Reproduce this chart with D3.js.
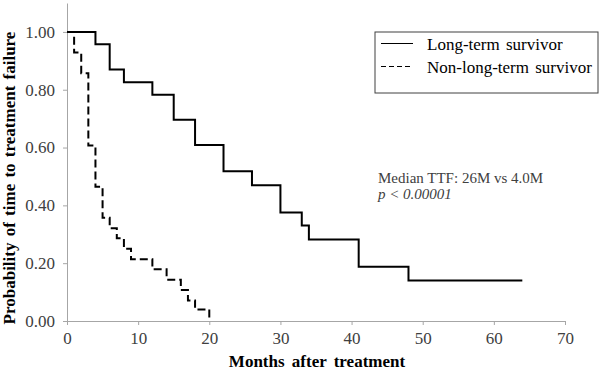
<!DOCTYPE html>
<html>
<head>
<meta charset="utf-8">
<script src="https://cdn.jsdelivr.net/npm/d3@7"></script>
<style>
  body { margin: 0; background: #fff; }
  .axis path, .axis line { stroke: #a6a6a6; }
</style>
</head>
<body>
<div id="chart"></div>
<script>
// KM steps: month of each drop and survival value after it
let longMonths = [0, 4, 6, 8, 12, 15, 18, 22, 26, 30, 33, 34, 41, 48, 64];
let longValues = [1.0, 0.957, 0.870, 0.826, 0.783, 0.696, 0.609, 0.518, 0.47, 0.375, 0.33, 0.282, 0.188, 0.14, 0.14];

let shortMonths = [0, 1, 2, 3, 4, 5, 6, 7, 8, 9, 12, 14, 16, 17, 18, 20];
let shortValues = [1.0, 0.929, 0.857, 0.607, 0.464, 0.357, 0.321, 0.286, 0.25, 0.214, 0.179, 0.143, 0.107, 0.071, 0.04, 0.0];

let xTicks = [0, 10, 20, 30, 40, 50, 60, 70];
let yTicks = [0, 0.2, 0.4, 0.6, 0.8, 1.0];
let legendLabels = ["Long-term survivor", "Non-long-term survivor"];
let noteLines = ["Median TTF: 26M vs 4.0M", "p < 0.00001"];

let serif = "'Liberation Serif', 'Times New Roman', serif";
let width = 600, height = 370;
let margin = {top: 3, right: 35, bottom: 49, left: 67};

let svg = d3.select("#chart").append("svg")
    .attr("width", width)
    .attr("height", height)
    .style("display", "block");

let x = d3.scaleLinear()
    .domain([0, 70])
    .range([margin.left, width - margin.right]);

let y = d3.scaleLinear()
    .domain([0, 1.1])
    .range([height - margin.bottom, margin.top]);

//AXES
let xAxis = d3.axisBottom(x)
    .tickValues(xTicks)
    .tickSize(4)
    .tickPadding(5)
    .tickSizeOuter(0);

let yAxis = d3.axisLeft(y)
    .tickValues(yTicks)
    .tickFormat(d3.format(".2f"))
    .tickSize(4)
    .tickPadding(8)
    .tickSizeOuter(0);

let xg = svg.append("g")
    .attr("class", "axis")
    .attr("transform", "translate(0," + y(0) + ")")
    .call(xAxis);
xg.selectAll("text").attr("dy", "0.85em");

let yg = svg.append("g")
    .attr("class", "axis")
    .attr("transform", "translate(" + x(0) + ",0)")
    .call(yAxis);

svg.selectAll(".axis")
    .attr("font-family", serif)
    .attr("font-size", 17)
    .selectAll("text").attr("fill", "#404040");

//STEP LINES
let step = d3.line()
    .x((d)=>x(d[0]))
    .y((d)=>y(d[1]))
    .curve(d3.curveStepAfter);

svg.append("path")
    .datum(d3.zip(longMonths, longValues))
    .attr("d", step)
    .attr("fill", "none")
    .attr("stroke", "#000")
    .attr("stroke-width", 2);

svg.append("path")
    .datum(d3.zip(shortMonths, shortValues))
    .attr("d", step)
    .attr("fill", "none")
    .attr("stroke", "#000")
    .attr("stroke-width", 2)
    .attr("stroke-dasharray", "8,4");

//AXIS TITLES
svg.append("text")
    .attr("x", 317)
    .attr("y", 367)
    .attr("text-anchor", "middle")
    .attr("font-family", serif)
    .attr("font-weight", "bold")
    .attr("font-size", 17)
    .attr("word-spacing", 3)
    .text("Months after treatment");

svg.append("text")
    .attr("transform", "translate(15,178) rotate(-90)")
    .attr("text-anchor", "middle")
    .attr("font-family", serif)
    .attr("font-weight", "bold")
    .attr("font-size", 17)
    .attr("word-spacing", 2)
    .text("Probability of time to treatment failure");

//LEGEND
let legend = svg.append("g").attr("transform", "translate(375,32)");
legend.append("rect")
    .attr("width", 223)
    .attr("height", 61)
    .attr("fill", "#fff")
    .attr("stroke", "#404040")
    .attr("stroke-width", 1);

legend.selectAll("line")
    .data(legendLabels)
    .enter().append("line")
    .attr("x1", 6)
    .attr("x2", 38)
    .attr("y1", (d,i)=>11.5 + i*23)
    .attr("y2", (d,i)=>11.5 + i*23)
    .attr("stroke", "#000")
    .attr("stroke-width", 1)
    .attr("stroke-dasharray", (d,i)=> i ? "5,3" : null);

legend.selectAll("text")
    .data(legendLabels)
    .enter().append("text")
    .attr("x", 52)
    .attr("y", (d,i)=>18 + i*23)
    .attr("font-family", serif)
    .attr("font-size", 17)
    .attr("word-spacing", 2)
    .attr("fill", "#000")
    .text((d)=>d);

//ANNOTATION
svg.append("text")
    .attr("x", 378)
    .attr("y", 183)
    .attr("font-family", serif)
    .attr("font-size", 15)
    .attr("fill", "#404040")
    .text(noteLines[0]);

svg.append("text")
    .attr("x", 378)
    .attr("y", 199)
    .attr("font-family", serif)
    .attr("font-size", 15)
    .attr("font-style", "italic")
    .attr("fill", "#404040")
    .text(noteLines[1]);
</script>
</body>
</html>
